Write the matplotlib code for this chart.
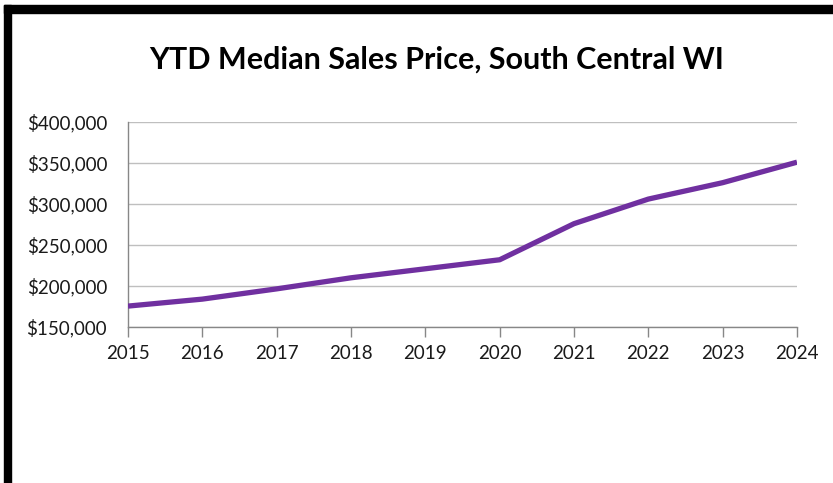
import matplotlib
matplotlib.use("Agg")
import matplotlib.pyplot as plt
from matplotlib.patches import Rectangle
from matplotlib.ticker import FuncFormatter

years = [2015, 2016, 2017, 2018, 2019, 2020, 2021, 2022, 2023, 2024]
median_price = [175500, 184000, 196500, 210000, 221000, 232000, 276000, 306000, 326000, 351000]
y_ticks = [150000, 200000, 250000, 300000, 350000, 400000]
title = "YTD Median Sales Price, South Central WI"

plt.rcParams['font.family'] = ['Lato', 'DejaVu Sans']

W, H = 833, 483
fig = plt.figure(figsize=(W / 100, H / 100), dpi=100)
fig.patch.set_facecolor('white')

# black frame bars (top and left)
fig.patches.append(Rectangle((4 / W, 1 - 12.5 / H), 1 - 4 / W, 7.5 / H,
                             transform=fig.transFigure, color='black', zorder=10))
fig.patches.append(Rectangle((4 / W, 0), 6.5 / W, 1 - 5 / H,
                             transform=fig.transFigure, color='black', zorder=10))

ax = fig.add_axes([128 / W, 1 - 327 / H, (797 - 128) / W, (327 - 122) / H])
ax.plot(years, median_price, color='#7030A0', linewidth=3.8, solid_capstyle='butt', zorder=3)

ax.set_xlim(years[0], years[-1])
ax.set_ylim(y_ticks[0], y_ticks[-1])
ax.set_yticks(y_ticks)
ax.set_xticks(years)
ax.yaxis.set_major_formatter(FuncFormatter(lambda v, p: f"${v:,.0f}"))
ax.grid(axis='y', color='#BFBFBF', linewidth=1.0)
ax.set_axisbelow(True)

for s in ['top', 'right']:
    ax.spines[s].set_visible(False)
for s in ['left', 'bottom']:
    ax.spines[s].set_color('#878787')
    ax.spines[s].set_linewidth(1.0)

ax.tick_params(axis='y', length=0, pad=15, labelsize=13.5, labelcolor='#1a1a1a')
ax.tick_params(axis='x', direction='out', length=7, width=1.0, color='#878787',
               pad=6, labelsize=13.5, labelcolor='#1a1a1a')

fig.text(437 / W, 1 - 60 / H, title, ha='center', va='center',
         fontsize=22, fontweight='bold', color='black')

fig.savefig('out.png', dpi=100)
